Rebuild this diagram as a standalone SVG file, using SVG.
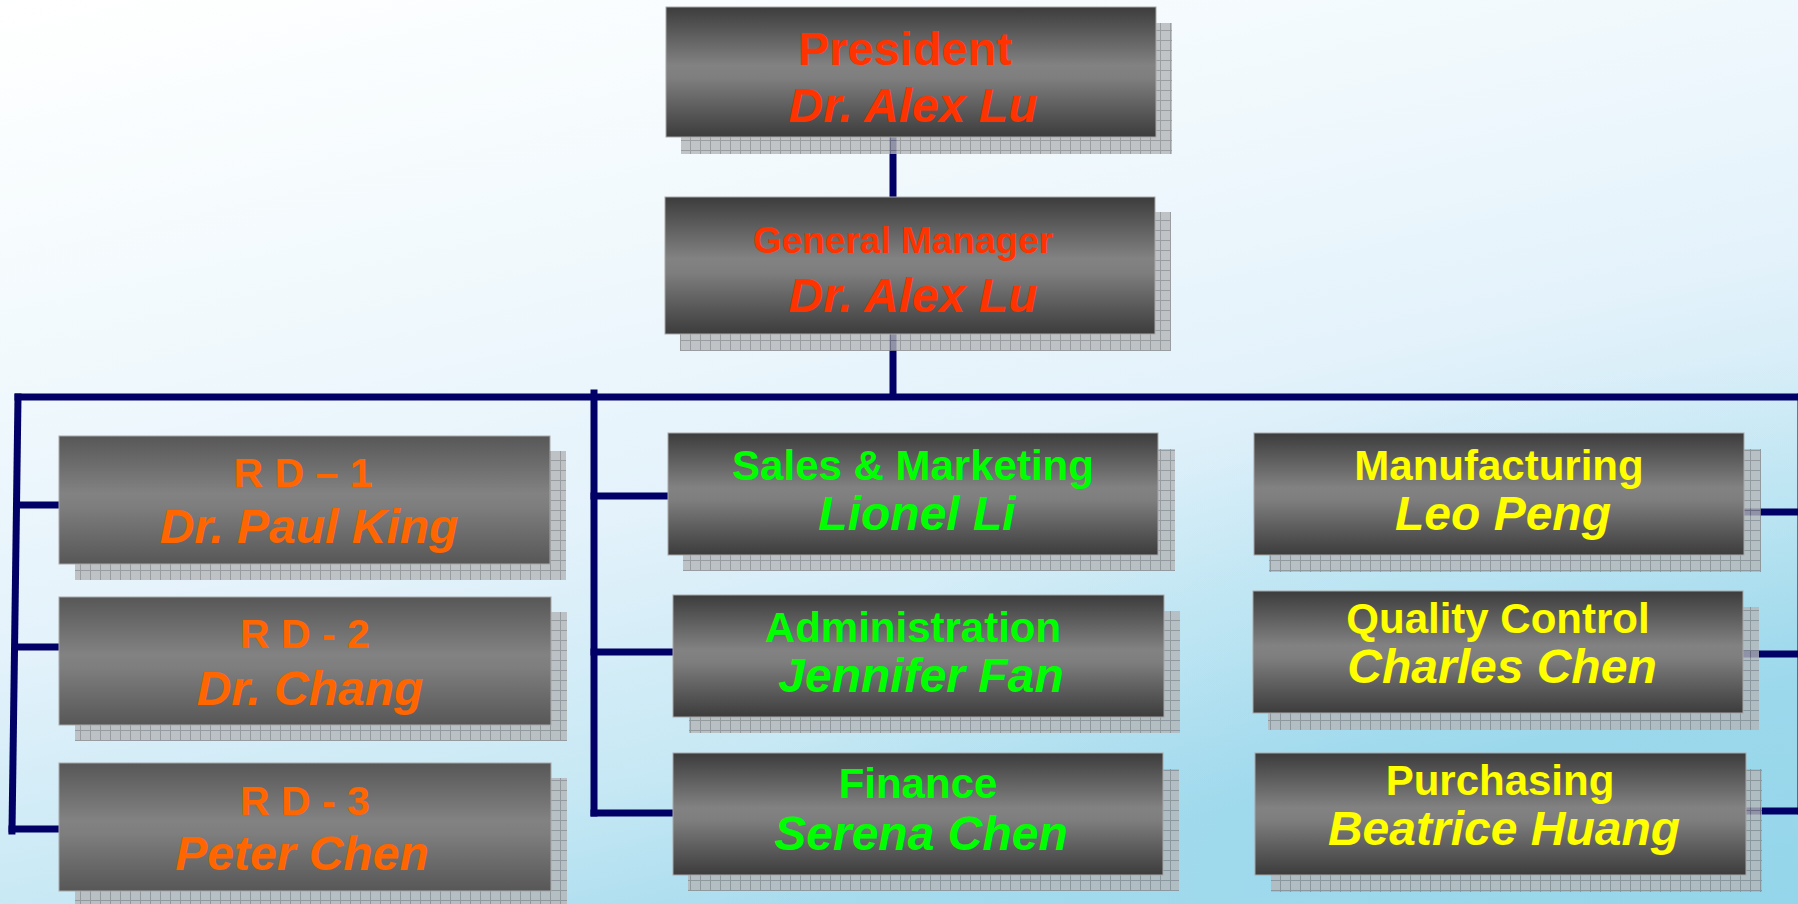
<svg xmlns="http://www.w3.org/2000/svg" width="1798" height="904" viewBox="0 0 1798 904">
<defs>
<linearGradient id="bg" x1="0" y1="0" x2="0.45" y2="1">
<stop offset="0" stop-color="#ffffff"/>
<stop offset="0.3" stop-color="#f3fafd"/>
<stop offset="0.6" stop-color="#e4f2fb"/>
<stop offset="0.85" stop-color="#c6e8f4"/>
<stop offset="1" stop-color="#a9dcee"/>
</linearGradient>
<radialGradient id="bg2" cx="1" cy="1" r="0.6">
<stop offset="0" stop-color="#8fd4ea" stop-opacity="0.8"/>
<stop offset="1" stop-color="#8fd4ea" stop-opacity="0"/>
</radialGradient>
<linearGradient id="boxg" x1="0" y1="0" x2="0" y2="1">
<stop offset="0" stop-color="#3c3c3c"/>
<stop offset="0.45" stop-color="#828282"/>
<stop offset="0.55" stop-color="#7e7e7e"/>
<stop offset="1" stop-color="#3c3c3c"/>
</linearGradient>
<linearGradient id="boxg2" x1="0" y1="0" x2="0" y2="1">
<stop offset="0" stop-color="#575757"/>
<stop offset="0.45" stop-color="#828282"/>
<stop offset="0.55" stop-color="#7e7e7e"/>
<stop offset="1" stop-color="#575757"/>
</linearGradient>
<pattern id="grid" width="10" height="10" patternUnits="userSpaceOnUse">
<rect width="10" height="10" fill="#b4b6b8"/>
<path d="M0 0.5H10M0.5 0V10" stroke="#85878a" stroke-width="1" fill="none"/>
</pattern>
<style>
.shadow{fill:url(#grid);opacity:0.8}
.box{fill:url(#boxg);stroke:#a8a8a8;stroke-width:1}
.box2{fill:url(#boxg2);stroke:#a8a8a8;stroke-width:1}
text{font-family:"Liberation Sans",Arial,sans-serif;font-weight:bold;text-anchor:middle}
.name{font-style:italic;font-size:48px}
.t47{font-size:47px}
.t37{font-size:37px}
.t42{font-size:42px}
.t41{font-size:41px}
.red{fill:#ff3300}
.org{fill:#ff6600}
.grn{fill:#00ff00}
.yel{fill:#ffff00}
.conn{stroke:#000066;stroke-width:7;fill:none;stroke-linecap:square}
</style>
</defs>
<rect width="1798" height="904" fill="url(#bg)"/>
<rect width="1798" height="904" fill="url(#bg2)"/>

<g id="connectors">
<path class="conn" d="M893 137V197"/>
<path class="conn" d="M893 334V393"/>
<path class="conn" d="M18 397H1801"/>
<path class="conn" d="M18 397L12 831"/>
<path class="conn" d="M18 505H60"/>
<path class="conn" d="M16 647H60"/>
<path class="conn" d="M12 829H60"/>
<path class="conn" d="M594 393V813"/>
<path class="conn" d="M594 496H668"/>
<path class="conn" d="M594 652H673"/>
<path class="conn" d="M594 813H673"/>
<path class="conn" d="M1801 397V811"/>
<path class="conn" d="M1744 512H1801"/>
<path class="conn" d="M1743 654H1801"/>
<path class="conn" d="M1746 811H1801"/>
</g>

<g id="president">
<rect class="shadow" x="681" y="23" width="491" height="131"/>
<rect class="box" x="666" y="7" width="490" height="130"/>
<text class="t47 red" x="905" y="65">President</text>
<text class="name red" x="913" y="122">Dr. Alex Lu</text>
</g>

<g id="general-manager">
<rect class="shadow" x="680" y="212" width="491" height="139"/>
<rect class="box" x="665" y="197" width="490" height="137"/>
<text class="t37 red" x="903" y="253">General Manager</text>
<text class="name red" x="913" y="312">Dr. Alex Lu</text>
</g>

<g id="rd1">
<rect class="shadow" x="75" y="451" width="491" height="129"/>
<rect class="box2" x="59" y="436" width="491" height="128"/>
<text class="t41 org" x="303" y="487">R D – 1</text>
<text class="name org" x="309" y="543">Dr. Paul King</text>
</g>

<g id="rd2">
<rect class="shadow" x="75" y="612" width="492" height="129"/>
<rect class="box2" x="59" y="597" width="492" height="128"/>
<text class="t41 org" x="305" y="648">R D - 2</text>
<text class="name org" x="310" y="705">Dr. Chang</text>
</g>

<g id="rd3">
<rect class="shadow" x="75" y="778" width="492" height="130"/>
<rect class="box2" x="59" y="763" width="492" height="128"/>
<text class="t41 org" x="305" y="815">R D - 3</text>
<text class="name org" x="302" y="870">Peter Chen</text>
</g>

<g id="sales">
<rect class="shadow" x="683" y="449" width="492" height="122"/>
<rect class="box" x="668" y="433" width="490" height="122"/>
<text class="t42 grn" x="913" y="480">Sales &amp; Marketing</text>
<text class="name grn" x="917" y="530">Lionel Li</text>
</g>

<g id="administration">
<rect class="shadow" x="689" y="611" width="491" height="122"/>
<rect class="box" x="673" y="595" width="491" height="122"/>
<text class="t42 grn" x="913" y="642">Administration</text>
<text class="name grn" x="921" y="692">Jennifer Fan</text>
</g>

<g id="finance">
<rect class="shadow" x="688" y="769" width="491" height="122"/>
<rect class="box" x="673" y="753" width="490" height="122"/>
<text class="t42 grn" x="918" y="798">Finance</text>
<text class="name grn" x="921" y="850">Serena Chen</text>
</g>

<g id="manufacturing">
<rect class="shadow" x="1269" y="449" width="492" height="123"/>
<rect class="box" x="1254" y="433" width="490" height="122"/>
<text class="t42 yel" x="1499" y="480">Manufacturing</text>
<text class="name yel" x="1503" y="530">Leo Peng</text>
</g>

<g id="quality-control">
<rect class="shadow" x="1268" y="607" width="491" height="123"/>
<rect class="box" x="1253" y="591" width="490" height="122"/>
<text class="t42 yel" x="1498" y="633">Quality Control</text>
<text class="name yel" x="1502" y="683">Charles Chen</text>
</g>

<g id="purchasing">
<rect class="shadow" x="1271" y="769" width="491" height="123"/>
<rect class="box" x="1255" y="753" width="491" height="122"/>
<text class="t42 yel" x="1500" y="795">Purchasing</text>
<text class="name yel" x="1504" y="845">Beatrice Huang</text>
</g>
</svg>
